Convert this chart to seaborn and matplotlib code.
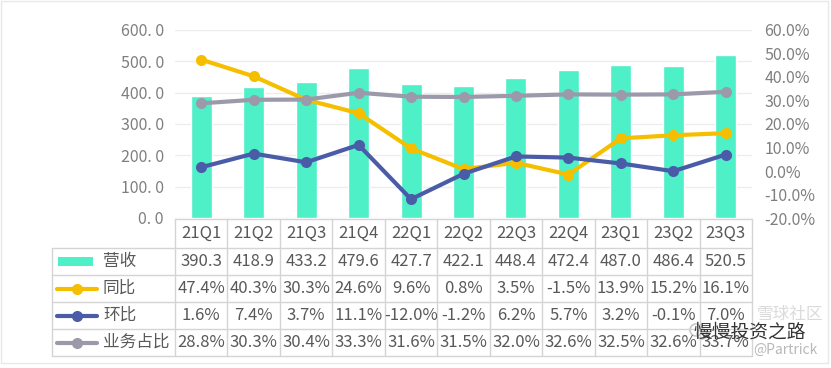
"""Revenue by quarter with YoY / QoQ / share lines and a data table underneath."""

import matplotlib

matplotlib.use("Agg")

import matplotlib.pyplot as plt
import numpy as np
import pandas as pd
import seaborn as sns
from matplotlib.lines import Line2D
from matplotlib.patches import Circle, Rectangle

quarters = ["21Q1", "21Q2", "21Q3", "21Q4", "22Q1", "22Q2", "22Q3", "22Q4", "23Q1", "23Q2", "23Q3"]
revenue = [390.3, 418.9, 433.2, 479.6, 427.7, 422.1, 448.4, 472.4, 487.0, 486.4, 520.5]
yoy = [47.4, 40.3, 30.3, 24.6, 9.6, 0.8, 3.5, -1.5, 13.9, 15.2, 16.1]
qoq = [1.6, 7.4, 3.7, 11.1, -12.0, -1.2, 6.2, 5.7, 3.2, -0.1, 7.0]
share = [28.8, 30.3, 30.4, 33.3, 31.6, 31.5, 32.0, 32.6, 32.5, 32.6, 33.7]

row_names = ["营收", "同比", "环比", "业务占比"]
left_ticks = [0, 100, 200, 300, 400, 500, 600]
right_ticks = [-20, -10, 0, 10, 20, 30, 40, 50, 60]

BAR = "#4EF0C8"
YELLOW = "#F5BF00"
BLUE = "#4A5CA8"
GREY = "#9C9AAA"
TEXT = "#595959"
TICK = "#7F7F7F"
BORDER = "#D4D4D4"

sns.set_theme(style="white")
plt.rcParams["font.family"] = ["Noto Sans CJK SC", "DejaVu Sans"]

W, H = 831, 368
fig = plt.figure(figsize=(W / 100, H / 100), dpi=100)
fig.patch.set_facecolor("white")

# plot area in pixels
x0, x1 = 175, 752
y_top, y_bot = 30, 218
ax = fig.add_axes([x0 / W, 1 - y_bot / H, (x1 - x0) / W, (y_bot - y_top) / H])

df = pd.DataFrame({"quarter": quarters, "revenue": revenue, "yoy": yoy, "qoq": qoq, "share": share})
df["pos"] = np.arange(len(df))

sns.barplot(data=df, x="quarter", y="revenue", color=BAR, width=0.4, saturation=1, ax=ax, zorder=2)
ax.set_xlim(-0.5, len(quarters) - 0.5)
ax.set_ylim(0, 600)
ax.set_yticks(left_ticks)
ax.set_yticklabels([f"{v:.1f}".replace(".", ". ") for v in left_ticks], color=TICK, fontsize=11.5)
ax.yaxis.grid(True, color="#EDEDED", linewidth=1)
ax.set_axisbelow(True)
ax.set_xticklabels([])
ax.set_xlabel("")
ax.set_ylabel("")
ax.tick_params(axis="both", length=0)
ax.tick_params(axis="y", pad=8)
for s in ax.spines.values():
    s.set_visible(False)

ax2 = ax.twinx()
line_specs = [("yoy", YELLOW), ("qoq", BLUE), ("share", GREY)]
for col, c in line_specs:
    sns.lineplot(data=df, x="pos", y=col, color=c, linewidth=3, marker="o", markersize=8,
                 markeredgewidth=0, ax=ax2, zorder=3)
ax2.set_xlim(-0.5, len(quarters) - 0.5)
ax2.set_ylim(-20, 60)
ax2.set_yticks(right_ticks)
ax2.set_yticklabels([f"{v:.1f}%" for v in right_ticks], color=TICK, fontsize=11.5)
ax2.tick_params(axis="both", length=0)
ax2.tick_params(axis="y", pad=9)
ax2.set_xlabel("")
ax2.set_ylabel("")
for s in ax2.spines.values():
    s.set_visible(False)

# data table drawn in pixel space
tab = fig.add_axes([0, 0, 1, 1])
tab.set_xlim(0, W)
tab.set_ylim(H, 0)
tab.axis("off")
tab.patch.set_alpha(0)

n = len(quarters)
col_w = (x1 - x0) / n
col_edges = [x0 + i * col_w for i in range(n + 1)]
row_edges = [219, 248, 275, 302, 329, 356]
leg_x = 52

# grid lines
tab.plot([x0, x1], [row_edges[0]] * 2, color=BORDER, lw=1)
for y in row_edges[1:]:
    tab.plot([leg_x, x1], [y, y], color=BORDER, lw=1)
for x in col_edges:
    tab.plot([x, x], [row_edges[0], row_edges[-1]], color=BORDER, lw=1)
tab.plot([leg_x, leg_x], [row_edges[1], row_edges[-1]], color=BORDER, lw=1)


def cy(r):
    return (row_edges[r] + row_edges[r + 1]) / 2


for i, q in enumerate(quarters):
    cx = (col_edges[i] + col_edges[i + 1]) / 2
    tab.text(cx, cy(0), q, ha="center", va="center", color=TEXT, fontsize=12)
    tab.text(cx, cy(1), f"{revenue[i]:.1f}", ha="center", va="center", color=TEXT, fontsize=12)
    tab.text(cx, cy(2), f"{yoy[i]:.1f}%", ha="center", va="center", color=TEXT, fontsize=12)
    tab.text(cx, cy(3), f"{qoq[i]:.1f}%", ha="center", va="center", color=TEXT, fontsize=12)
    tab.text(cx, cy(4), f"{share[i]:.1f}%", ha="center", va="center", color=TEXT, fontsize=12)

# legend keys in the first column
tab.add_patch(Rectangle((58, cy(1) - 4.5), 35, 9, color=BAR, lw=0))
for r, (_, c) in enumerate(line_specs, start=2):
    tab.add_line(Line2D([57, 97], [cy(r), cy(r)], color=c, lw=3))
    tab.add_line(Line2D([77], [cy(r)], color=c, marker="o", markersize=8, markeredgewidth=0))
for r, name in enumerate(row_names, start=1):
    tab.text(103, cy(r), name, ha="left", va="center", color=TEXT, fontsize=12)

# watermark (icon drawn as shapes, text as in the source)
tab.add_patch(Circle((696, 330), 6, fill=False, edgecolor="#C8C8C8", lw=1.2))
tab.add_patch(Circle((702, 334), 5, fill=False, edgecolor="#C8C8C8", lw=1.2))
tab.text(757, 314, "雪球社区", ha="left", va="center", color="#DADADA", fontsize=12)
tab.text(750, 332, "慢慢投资之路", ha="center", va="center", color="#333333", fontsize=13.5)
tab.text(753, 350, "@Partrick", ha="left", va="center", color="#B8B8B8", fontsize=10)

# outer frame
tab.add_patch(Rectangle((1, 1), 827, 362, fill=False, edgecolor="#E8E8E8", lw=1))

fig.savefig("out.png", dpi=100, facecolor="white")
